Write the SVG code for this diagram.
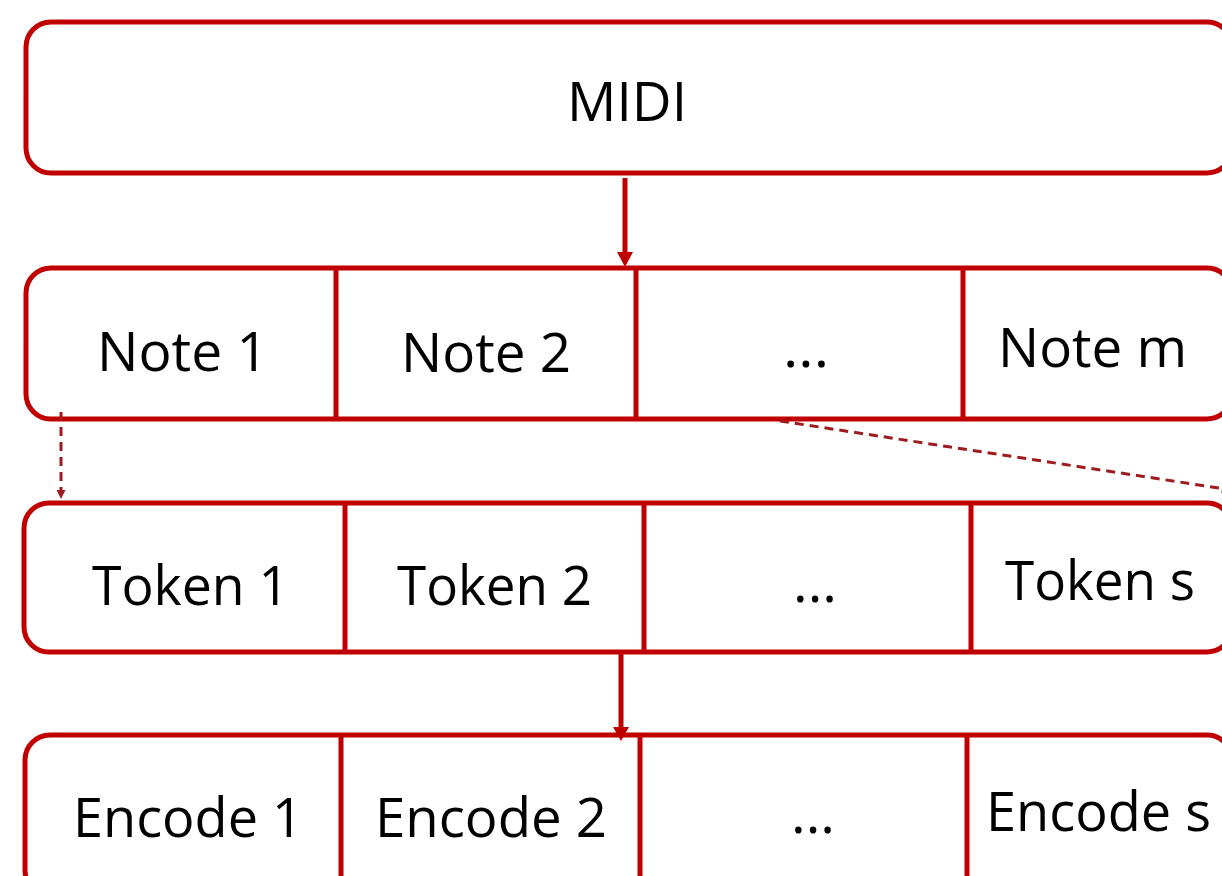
<svg xmlns="http://www.w3.org/2000/svg" width="1222" height="876" viewBox="0 0 1222 876">
<style>
.box{fill:#fff;stroke:#C00000;stroke-width:5}
.div{stroke:#C00000;stroke-width:5}
.t{font-family:"Open Sans","Liberation Sans",sans-serif;font-size:55px;fill:#000}
.arr{stroke:#C00000;stroke-width:5;fill:none}
.dash{stroke:#9E1B20;stroke-width:3;stroke-dasharray:9 6;fill:none}
</style>
<rect width="1222" height="876" fill="#fff"/>
<g id="midi">
<rect class="box" x="26" y="22" width="1206" height="151" rx="25"/>
<text class="t" x="567" y="121" textLength="120" lengthAdjust="spacingAndGlyphs">MIDI</text>
</g>
<g id="notes">
<rect class="box" x="26" y="268" width="1206" height="151" rx="25"/>
<line class="div" x1="336" y1="268" x2="336" y2="419"/>
<line class="div" x1="636" y1="268" x2="636" y2="419"/>
<line class="div" x1="963" y1="268" x2="963" y2="419"/>
<text class="t" x="97" y="371" textLength="171" lengthAdjust="spacingAndGlyphs">Note 1</text>
<text class="t" x="401" y="372" textLength="170" lengthAdjust="spacingAndGlyphs">Note 2</text>
<text class="t" x="783" y="367" textLength="46" lengthAdjust="spacingAndGlyphs">...</text>
<text class="t" x="998" y="367" textLength="189" lengthAdjust="spacingAndGlyphs">Note m</text>
</g>
<g id="tokens">
<rect class="box" x="24" y="503" width="1208" height="149" rx="25"/>
<line class="div" x1="345" y1="503" x2="345" y2="652"/>
<line class="div" x1="644" y1="503" x2="644" y2="652"/>
<line class="div" x1="971" y1="503" x2="971" y2="652"/>
<text class="t" x="92" y="605" textLength="197" lengthAdjust="spacingAndGlyphs">Token 1</text>
<text class="t" x="397" y="605" textLength="195" lengthAdjust="spacingAndGlyphs">Token 2</text>
<text class="t" x="793" y="602" textLength="44" lengthAdjust="spacingAndGlyphs">...</text>
<text class="t" x="1005" y="600" textLength="190" lengthAdjust="spacingAndGlyphs">Token s</text>
</g>
<g id="encodes">
<rect class="box" x="25" y="735" width="1207" height="160" rx="25"/>
<line class="div" x1="341" y1="735" x2="341" y2="880"/>
<line class="div" x1="640" y1="735" x2="640" y2="880"/>
<line class="div" x1="967" y1="735" x2="967" y2="880"/>
<text class="t" x="73" y="837" textLength="230" lengthAdjust="spacingAndGlyphs">Encode 1</text>
<text class="t" x="375" y="837" textLength="232" lengthAdjust="spacingAndGlyphs">Encode 2</text>
<text class="t" x="791" y="833" textLength="44" lengthAdjust="spacingAndGlyphs">...</text>
<text class="t" x="986" y="831" textLength="225" lengthAdjust="spacingAndGlyphs">Encode s</text>
</g>
<g id="connectors">
<line class="arr" x1="625" y1="178" x2="625" y2="253"/>
<polygon points="617,252 633,252 625,267" fill="#C00000"/>
<line class="arr" x1="621" y1="654" x2="621" y2="728"/>
<polygon points="613,727 629,727 621,741" fill="#C00000"/>
<line class="dash" x1="61" y1="412" x2="61" y2="491"/>
<polygon points="56.5,490 65.5,490 61,499" fill="#9E1B20"/>
<line class="dash" x1="780" y1="421" x2="1224" y2="488.8"/>
<polygon points="1222.7,484.3 1221.3,493.2 1232,490" fill="#9E1B20"/>
</g>
</svg>
